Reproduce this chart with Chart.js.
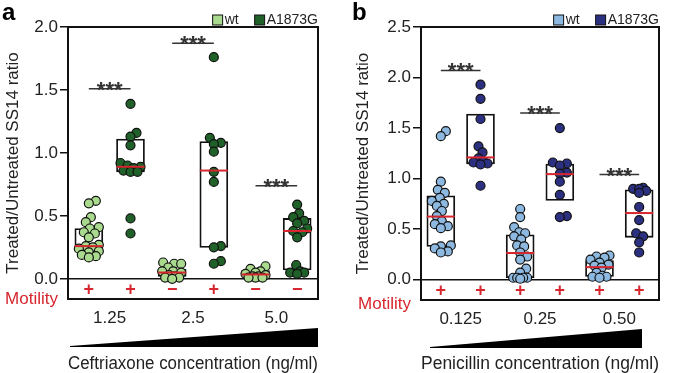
<!DOCTYPE html>
<html>
<head>
<meta charset="utf-8">
<script src="https://cdn.jsdelivr.net/npm/chart.js@4.4.1/dist/chart.umd.min.js"></script>
<style>
  html, body { margin: 0; padding: 0; background: #fff; overflow: hidden; }
  .panel { position: absolute; top: 0; }
</style>
</head>
<body>
<div class="panel" style="left:0"><canvas id="chartA" width="337" height="375"></canvas></div>
<div class="panel" style="left:337px"><canvas id="chartB" width="338" height="375"></canvas></div>
<script>
// Panel a - ceftriaxone
const cefLabels = ["1.25", "2.5", "5.0"];
const cefSeries = ["wt", "A1873G"];
const cefWt = [
  [0.62, 0.60, 0.49, 0.45, 0.41, 0.40, 0.37, 0.36, 0.33, 0.27, 0.26, 0.25, 0.24, 0.22, 0.21, 0.19, 0.18, 0.17],
  [0.13, 0.12, 0.12, 0.09, 0.06, 0.06, 0.05, 0.03, 0.02, 0.01, 0.01, 0.00],
  [0.10, 0.08, 0.06, 0.05, 0.04, 0.03, 0.02, 0.02, 0.01, 0.01, 0.01]
];
const cefMut = [
  [1.39, 1.16, 1.13, 1.06, 0.92, 0.90, 0.89, 0.88, 0.86, 0.85, 0.85, 0.48, 0.36],
  [1.76, 1.12, 1.08, 1.07, 1.01, 0.85, 0.77, 0.26, 0.25, 0.14, 0.12],
  [0.59, 0.52, 0.49, 0.46, 0.44, 0.40, 0.38, 0.37, 0.33, 0.11, 0.06, 0.05, 0.05, 0.04]
];
const cefBoxLow = [0.22, 0.85, 0.02, 0.25, 0.02, 0.07];
const cefBoxHigh = [0.40, 1.11, 0.075, 1.09, 0.065, 0.48];
const cefMedian = [0.26, 0.89, 0.05, 0.86, 0.035, 0.38];
const cefMotility = ["+", "+", "\u2212", "+", "\u2212", "\u2212"];
const cefSig = [1.51, 1.87, 0.74];
const cefTicks = [0, 0.5, 1.0, 1.5, 2.0];

// Panel b - penicillin
const penLabels = ["0.125", "0.25", "0.50"];
const penSeries = ["wt", "A1873G"];
const penWt = [
  [1.47, 1.42, 0.97, 0.89, 0.86, 0.81, 0.78, 0.75, 0.73, 0.68, 0.63, 0.58, 0.55, 0.53, 0.51, 0.34, 0.33, 0.31, 0.28, 0.27],
  [0.70, 0.62, 0.52, 0.47, 0.46, 0.43, 0.40, 0.34, 0.33, 0.27, 0.23, 0.20, 0.11, 0.07, 0.02, 0.02, 0.02, 0.02, 0.01],
  [0.24, 0.23, 0.22, 0.20, 0.17, 0.15, 0.14, 0.12, 0.07, 0.04, 0.03, 0.03, 0.02]
];
const penMut = [
  [1.93, 1.79, 1.59, 1.32, 1.26, 1.20, 1.17, 1.16, 1.15, 1.14, 0.93],
  [1.50, 1.16, 1.15, 1.13, 1.06, 1.05, 0.97, 0.84, 0.63, 0.62],
  [0.91, 0.90, 0.90, 0.88, 0.86, 0.72, 0.59, 0.46, 0.43, 0.37, 0.27]
];
const penBoxLow = [0.33, 1.145, 0.02, 0.785, 0.033, 0.42];
const penBoxHigh = [0.83, 1.64, 0.445, 1.145, 0.19, 0.89];
const penMedian = [0.625, 1.21, 0.265, 1.045, 0.125, 0.66];
const penMotility = ["+", "+", "+", "+", "+", "+"];
const penSig = [2.07, 1.65, 1.04];
const penTicks = [0, 0.5, 1.0, 1.5, 2.0, 2.5];

const FONT = "'Liberation Sans', Arial, sans-serif";
const RED = "#d7262e";
Chart.defaults.font.family = FONT;
Chart.defaults.color = "#222";

// annotations: frame, legend, motility row, significance bars, wedge
const extras = {
  id: "extras",
  afterDraw(chart, args, opts) {
    const { ctx, chartArea: ca } = chart;
    const x = chart.scales.x, y = chart.scales.y;
    ctx.save();
    ctx.strokeStyle = "#111";
    ctx.lineWidth = 2;
    ctx.strokeRect(ca.left, ca.top, ca.right - ca.left, ca.bottom - ca.top);

    ctx.fillStyle = "#000";
    ctx.font = "bold 24px " + FONT;
    ctx.textAlign = "left";
    ctx.textBaseline = "alphabetic";
    ctx.fillText(opts.letter, opts.letterX, 20);

    // legend, right aligned to the plot
    ctx.font = "14px " + FONT;
    ctx.textBaseline = "middle";
    let right = ca.right;
    for (let s = opts.series.length - 1; s >= 0; s--) {
      const w = ctx.measureText(opts.series[s]).width;
      const tx = right - w;
      ctx.fillStyle = "#222";
      ctx.fillText(opts.series[s], tx, 20);
      ctx.fillStyle = opts.colors[s];
      ctx.fillRect(tx - 12, 15, 10, 10);
      ctx.strokeStyle = "#111";
      ctx.lineWidth = 1;
      ctx.strokeRect(tx - 12, 15, 10, 10);
      right = tx - 12 - 16;
    }

    // motility row
    ctx.fillStyle = RED;
    ctx.font = "17px " + FONT;
    ctx.textAlign = "right";
    ctx.fillText("Motility", ca.left - 10, ca.bottom + opts.motilityDy);
    const signY = (y.getPixelForValue(0) + ca.bottom) / 2 + 1;
    ctx.font = "bold 18px " + FONT;
    ctx.textAlign = "center";
    opts.motility.forEach((m, i) => ctx.fillText(m, x.getPixelForValue(i), signY));

    // significance bars
    opts.sig.forEach((v, k) => {
      const x0 = x.getPixelForValue(2 * k), x1 = x.getPixelForValue(2 * k + 1);
      const py = y.getPixelForValue(v);
      ctx.strokeStyle = "#333";
      ctx.lineWidth = 1.5;
      ctx.beginPath();
      ctx.moveTo(x0, py);
      ctx.lineTo(x1, py);
      ctx.stroke();
      ctx.fillStyle = "#333";
      ctx.font = "bold 22px " + FONT;
      ctx.textBaseline = "alphabetic";
      ctx.fillText("***", (x0 + x1) / 2, py + 8);
    });

    // concentration wedge
    const wl = ca.left + opts.wedge[0], wr = ca.right - opts.wedge[1];
    const wt = ca.bottom + 29, wb = ca.bottom + 48;
    ctx.fillStyle = "#000";
    ctx.beginPath();
    ctx.moveTo(wl, wb - 1);
    ctx.lineTo(wr, wt);
    ctx.lineTo(wr, wb);
    ctx.lineTo(wl, wb);
    ctx.closePath();
    ctx.fill();
    ctx.restore();
  }
};

// compact beeswarm: spread points sideways within the box width, computed in pixels
function swarm(chart) {
  const xs = chart.scales.x, ys = chart.scales.y;
  const pxPerX = xs.getPixelForValue(1) - xs.getPixelForValue(0);
  const want = 7, cap = 10;
  chart.data.datasets.forEach(ds => {
    if (!ds.swarm) return;
    const groups = {};
    ds.data.forEach(p => { (groups[p.g] = groups[p.g] || []).push(p); });
    Object.values(groups).forEach(pts => {
      const placed = [];
      pts.slice().sort((a, b) => a.y - b.y).forEach(p => {
        const py = ys.getPixelForValue(p.y);
        let best = 0, bestD = -1;
        for (let k = 0; k <= cap * 2; k++) {
          const cand = k === 0 ? 0 : (k % 2 ? 1 : -1) * Math.ceil(k / 2);
          let d = Infinity;
          placed.forEach(q => { d = Math.min(d, Math.hypot(q.dx - cand, q.py - py)); });
          if (d >= want) { best = cand; bestD = d; break; }
          if (d > bestD + 0.5) { best = cand; bestD = d; }
        }
        placed.push({ dx: best, py });
        p.x = p.g + best / pxPerX;
      });
    });
  });
  chart.update("none");
}

function makePanel(id, cfg) {
  const boxData = cfg.boxLow.map((lo, i) => ({ x: i, y: [lo, cfg.boxHigh[i]] }));
  const medData = cfg.median.map((m, i) => ({ x: i, y: m }));
  const pointSets = cfg.values.map((groups, s) => ({
    type: "scatter",
    label: cfg.series[s],
    swarm: true,
    order: 2,
    data: groups.flatMap((vals, c) => vals.map(v => ({ g: c * 2 + s, x: c * 2 + s, y: v }))),
    backgroundColor: cfg.colors[s],
    borderColor: "#111",
    borderWidth: 1.2,
    pointRadius: 4.5
  }));

  const chart = new Chart(document.getElementById(id), {
    type: "bar",
    data: {
      datasets: [
        {
          type: "bar",
          label: "_box",
          order: 3,
          data: boxData,
          backgroundColor: "#fff",
          borderColor: "#111",
          borderWidth: 1.8,
          borderSkipped: false,
          barThickness: 28,
          grouped: false
        },
        ...pointSets,
        {
          type: "scatter",
          label: "_median",
          order: 1,
          data: medData,
          pointStyle: "line",
          pointRadius: 14,
          borderColor: RED,
          backgroundColor: RED,
          borderWidth: 2
        }
      ]
    },
    options: {
      responsive: false,
      animation: false,
      events: [],
      layout: { padding: { top: 27, left: cfg.padLeft, right: cfg.padRight, bottom: 0 } },
      plugins: {
        legend: { display: false },
        tooltip: { enabled: false },
        extras: {
          letter: cfg.letter,
          letterX: cfg.letterX,
          series: cfg.series,
          colors: cfg.colors,
          motility: cfg.motility,
          motilityDy: cfg.motilityDy,
          sig: cfg.sig,
          wedge: cfg.wedge
        }
      },
      scales: {
        x: {
          type: "linear",
          min: -0.5,
          max: 5.5,
          offset: false,
          afterBuildTicks: s => { s.ticks = cfg.labels.map((l, i) => ({ value: 2 * i + 0.5 })); },
          afterFit: s => { s.height = cfg.xHeight; },
          ticks: { callback: (v, i) => cfg.labels[i], font: { size: 17 }, padding: 1, maxRotation: 0, autoSkip: false },
          grid: { display: false },
          border: { display: false },
          title: { display: true, text: cfg.xTitle, font: { size: 17.5 }, padding: { top: 0, bottom: 0 } }
        },
        y: {
          min: cfg.yMin,
          max: cfg.yMax,
          afterBuildTicks: s => { s.ticks = cfg.yTicks.map(v => ({ value: v })); },
          afterFit: s => { s.width = cfg.yWidth; },
          ticks: { callback: v => v.toFixed(1), font: { size: 17 }, padding: 2 },
          grid: {
            color: c => (c.tick && c.tick.value === 0 ? "#111" : "rgba(0,0,0,0)"),
            tickColor: "#111",
            tickLength: 8,
            lineWidth: 1.5
          },
          border: { display: false },
          title: { display: true, text: "Treated/Untreated SS14 ratio", font: { size: 17 }, padding: { top: 3, bottom: 0 } }
        }
      }
    },
    plugins: [extras]
  });
  swarm(chart);
  return chart;
}

makePanel("chartA", {
  letter: "a", letterX: 2,
  labels: cefLabels, series: cefSeries, values: [cefWt, cefMut],
  colors: ["#a9da8e", "#1f6128"],
  boxLow: cefBoxLow, boxHigh: cefBoxHigh, median: cefMedian,
  motility: cefMotility, motilityDy: 0, sig: cefSig, yTicks: cefTicks,
  yMin: -0.16, yMax: 2.0, yWidth: 68, xHeight: 76,
  padLeft: 0, padRight: 19, wedge: [2, 0],
  xTitle: "Ceftriaxone concentration (ng/ml)"
});

makePanel("chartB", {
  letter: "b", letterX: 15,
  labels: penLabels, series: penSeries, values: [penWt, penMut],
  colors: ["#8db8e0", "#2c3080"],
  boxLow: penBoxLow, boxHigh: penBoxHigh, median: penMedian,
  motility: penMotility, motilityDy: 4, sig: penSig, yTicks: penTicks,
  yMin: -0.2, yMax: 2.5, yWidth: 71, xHeight: 75,
  padLeft: 13, padRight: 3, wedge: [9, 17],
  xTitle: "Penicillin concentration (ng/ml)"
});
</script>
</body>
</html>
